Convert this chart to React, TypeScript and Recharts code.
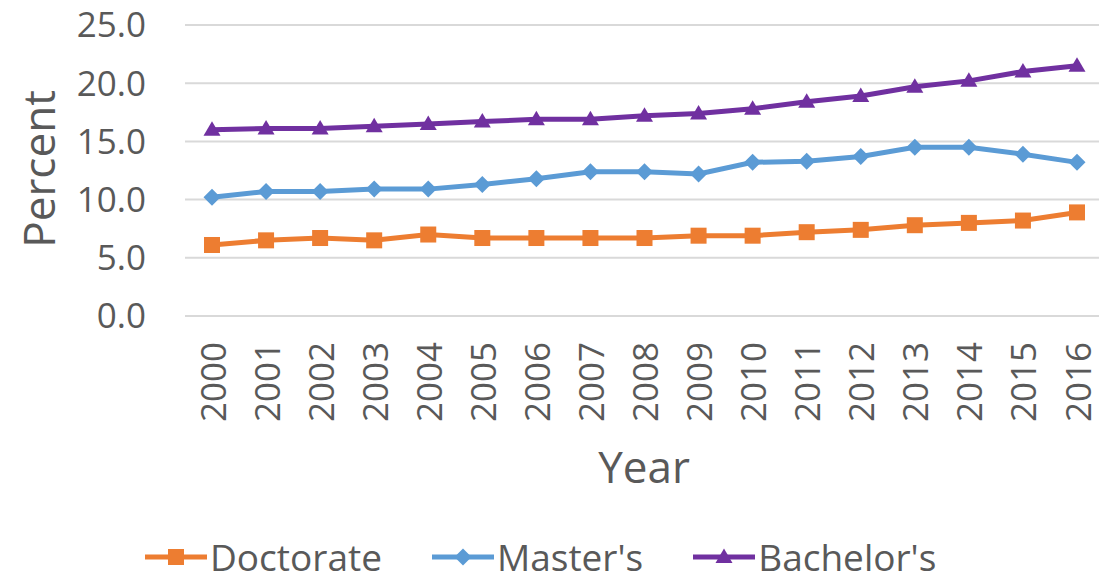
import { LineChart, Line, XAxis, YAxis, CartesianGrid, Label } from 'recharts';

const years = ['2000', '2001', '2002', '2003', '2004', '2005', '2006', '2007', '2008', '2009', '2010', '2011', '2012', '2013', '2014', '2015', '2016'];
const doctorate = [6.1, 6.5, 6.7, 6.5, 7.0, 6.7, 6.7, 6.7, 6.7, 6.9, 6.9, 7.2, 7.4, 7.8, 8.0, 8.2, 8.9];
const masters = [10.2, 10.7, 10.7, 10.9, 10.9, 11.3, 11.8, 12.4, 12.4, 12.2, 13.2, 13.3, 13.7, 14.5, 14.5, 13.9, 13.2];
const bachelors = [16.0, 16.1, 16.1, 16.3, 16.5, 16.7, 16.9, 16.9, 17.2, 17.4, 17.8, 18.4, 18.9, 19.7, 20.2, 21.0, 21.5];
const yTicks = [0, 5, 10, 15, 20, 25];

const series = [
  { key: 'doctorate', name: 'Doctorate', color: '#ED7D31', shape: 'square' },
  { key: 'masters', name: "Master's", color: '#5B9BD5', shape: 'diamond' },
  { key: 'bachelors', name: "Bachelor's", color: '#7030A0', shape: 'triangle' },
];

const data = years.map((year, i) => ({
  year,
  doctorate: doctorate[i],
  masters: masters[i],
  bachelors: bachelors[i],
}));

const FONT = "'Open Sans', sans-serif";
const TEXT = '#595959';

function Marker({ cx, cy, shape, color }: { cx: number; cy: number; shape: string; color: string }) {
  if (cx == null || cy == null) return null;
  if (shape === 'square') {
    return <rect x={cx - 8} y={cy - 8} width={16} height={16} fill={color} />;
  }
  if (shape === 'diamond') {
    return <polygon points={`${cx},${cy - 8.5} ${cx + 8.5},${cy} ${cx},${cy + 8.5} ${cx - 8.5},${cy}`} fill={color} />;
  }
  return <polygon points={`${cx},${cy - 8.5} ${cx + 8.5},${cy + 6} ${cx - 8.5},${cy + 6}`} fill={color} />;
}

function XTick({ x, y, payload }: any) {
  return (
    <text
      x={x}
      y={y}
      transform={`rotate(-90, ${x}, ${y})`}
      textAnchor="end"
      dominantBaseline="central"
      fill={TEXT}
      fontFamily={FONT}
      fontSize={35}
    >
      {payload.value}
    </text>
  );
}

function LegendRow() {
  return (
    <div
      style={{
        position: 'absolute',
        top: 537,
        left: 145,
        display: 'flex',
        gap: 50,
        alignItems: 'center',
        fontFamily: FONT,
        fontSize: 37,
        color: TEXT,
      }}
    >
      {series.map((s) => (
        <div key={s.key} style={{ display: 'flex', alignItems: 'center', gap: 3 }}>
          <svg width={62} height={20}>
            <line x1={0} y1={10} x2={62} y2={10} stroke={s.color} strokeWidth={5} />
            <Marker cx={31} cy={10} shape={s.shape} color={s.color} />
          </svg>
          <span style={{ lineHeight: '40px' }}>{s.name}</span>
        </div>
      ))}
    </div>
  );
}

export default function App() {
  return (
    <div style={{ position: 'absolute', top: 0, left: 0, width: 1099, height: 584, overflow: 'hidden', background: '#fff' }}>
      <LineChart width={1110} height={584} data={data} margin={{ top: 25, right: 6, bottom: 0, left: 0 }}>
        <CartesianGrid vertical={false} stroke="#d9d9d9" strokeWidth={2} />
        <XAxis
          dataKey="year"
          height={268}
          axisLine={false}
          tickLine={false}
          padding={{ left: 27, right: 27 }}
          interval={0}
          tickSize={0}
          tickMargin={26}
          tick={<XTick />}
        >
          <Label
            content={() => (
              <text x={644} y={466} textAnchor="middle" dominantBaseline="central" fill={TEXT} fontFamily={FONT} fontSize={44}>
                Year
              </text>
            )}
          />
        </XAxis>
        <YAxis
          width={185}
          domain={[0, 25]}
          ticks={yTicks}
          axisLine={false}
          tickLine={false}
          tickSize={0}
          tickMargin={39}
          tickFormatter={(v: number) => v.toFixed(1)}
          tick={{ fill: TEXT, fontFamily: FONT, fontSize: 35 }}
        >
          <Label
            content={() => (
              <text
                x={38}
                y={169}
                transform="rotate(-90, 38, 169)"
                textAnchor="middle"
                dominantBaseline="central"
                fill={TEXT}
                fontFamily={FONT}
                fontSize={44}
              >
                Percent
              </text>
            )}
          />
        </YAxis>
        {series.map((s) => (
          <Line
            key={s.key}
            dataKey={s.key}
            name={s.name}
            stroke={s.color}
            strokeWidth={5}
            isAnimationActive={false}
            dot={(p: any) => <Marker key={`${s.key}-${p.index}`} cx={p.cx} cy={p.cy} shape={s.shape} color={s.color} />}
            activeDot={false}
          />
        ))}
      </LineChart>
      <LegendRow />
    </div>
  );
}
